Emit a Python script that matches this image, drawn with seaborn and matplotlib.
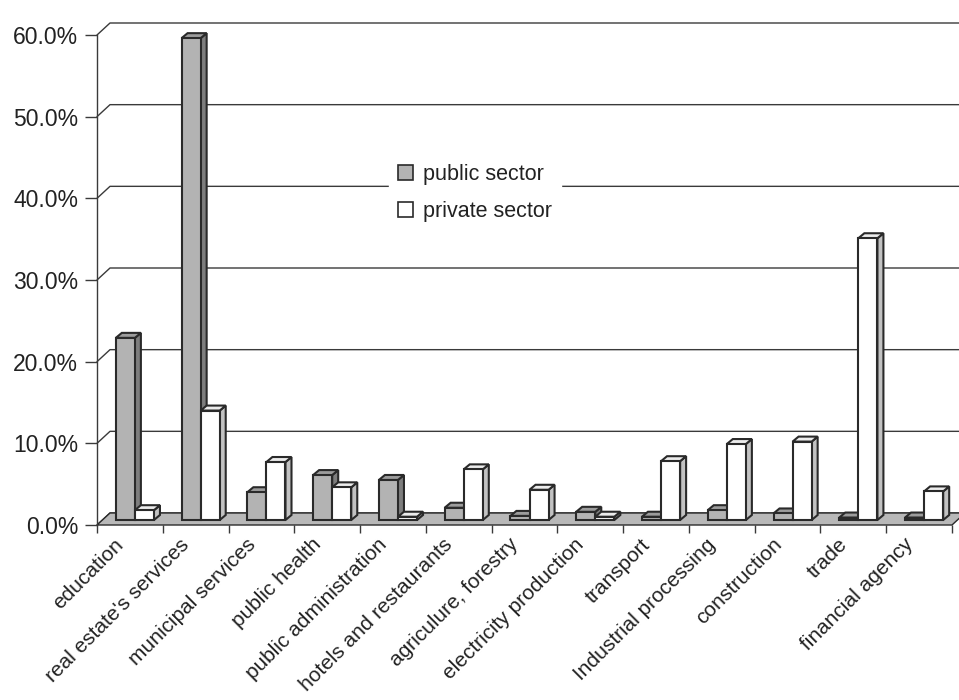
import numpy as np
import pandas as pd
import matplotlib
matplotlib.use("Agg")
import matplotlib.pyplot as plt
import seaborn as sns
from matplotlib.patches import Polygon, Rectangle
from matplotlib.lines import Line2D
from matplotlib.transforms import ScaledTranslation, IdentityTransform
from matplotlib.ticker import FixedLocator, FuncFormatter

# ---- data (share of employment, %) ----
sectors = [
    "education", "real estate's services", "municipal services",
    "public health", "public administration", "hotels and restaurants",
    "agriculure, forestry", "electricity production", "transport",
    "Industrial processing", "construction", "trade", "financial agency",
]
public_share = [22.3, 59.0, 3.4, 5.5, 4.9, 1.5, 0.5, 1.0, 0.4, 1.2, 0.8, 0.3, 0.3]
private_share = [1.2, 13.4, 7.1, 4.0, 0.4, 6.2, 3.7, 0.4, 7.2, 9.3, 9.6, 34.5, 3.5]
series = ["public sector", "private sector"]
y_ticks = [0, 10, 20, 30, 40, 50, 60]

df = pd.DataFrame({
    "sector": sectors * 2,
    "share": public_share + private_share,
    "series": [series[0]] * len(sectors) + [series[1]] * len(sectors),
})

# ---- style ----
sns.set_theme(style="white")
plt.rcParams["font.family"] = ["Liberation Sans", "DejaVu Sans"]

INK = "#2a2a2a"
faces = {
    "public sector": {"front": "#b3b3b3", "side": "#7e7e7e", "top": "#9c9c9c"},
    "private sector": {"front": "#ffffff", "side": "#c2c2c2", "top": "#ececec"},
}
FLOOR_COLOR = "#b8b8b8"

W_PX, H_PX, DPI = 959, 700, 100
fig = plt.figure(figsize=(W_PX / DPI, H_PX / DPI), dpi=DPI)
fig.patch.set_facecolor("white")
ax = fig.add_axes([97 / W_PX, 175 / H_PX, 855 / W_PX, 490 / H_PX])
ax.set_facecolor("none")

sns.barplot(
    data=df, x="sector", y="share", hue="series",
    order=sectors, hue_order=series,
    palette={k: v["front"] for k, v in faces.items()},
    width=0.58, saturation=1, edgecolor=INK, linewidth=1.5,
    ax=ax, legend=True,
)
ax.set_xlim(-0.5, len(sectors) - 0.5)
ax.set_ylim(0, 60)
ax.set_xlabel("")
ax.set_ylabel("")

# ---- pseudo-3D geometry (pixels) ----
WALL_DX, WALL_DY = 13, 12      # depth of the floor / back wall
BAR_SHIFT = (5, 5)             # bars stand mid-way into the floor
BAR_DX, BAR_DY = 6, 5          # depth of each bar

to_px = ax.transData.transform
x_left_px = to_px((-0.5, 0))[0]
x_right_px = to_px((len(sectors) - 0.5, 0))[0]

# back wall gridlines with their diagonal connectors to the front axis
for v in y_ticks:
    y_px = to_px((-0.5, v))[1]
    pts = [(x_left_px, y_px), (x_left_px + WALL_DX, y_px + WALL_DY), (W_PX, y_px + WALL_DY)]
    ax.add_line(Line2D([p[0] for p in pts], [p[1] for p in pts], color="#3a3a3a",
                       lw=1.0, transform=IdentityTransform(), clip_on=False, zorder=0.5))

# floor
y0_px = to_px((0, 0))[1]
floor = Polygon([(x_left_px, y0_px), (x_right_px, y0_px),
                 (x_right_px + WALL_DX, y0_px + WALL_DY), (x_left_px + WALL_DX, y0_px + WALL_DY)],
                closed=True, facecolor=FLOOR_COLOR, edgecolor=INK, lw=1.0,
                transform=IdentityTransform(), clip_on=False, zorder=1)
ax.add_patch(floor)

# bars: shift into the floor and add side / top faces, painted left to right
shift = ScaledTranslation(BAR_SHIFT[0] / DPI, BAR_SHIFT[1] / DPI, fig.dpi_scale_trans)
bars = [p for p in ax.patches if isinstance(p, Rectangle) and p is not floor]
n = len(sectors)
bar_series = {}
for i, p in enumerate(bars[:2 * n]):
    bar_series[id(p)] = series[0] if i < n else series[1]
bars = sorted(bars[:2 * n], key=lambda r: r.get_x())
for k, p in enumerate(bars):
    s = bar_series[id(p)]
    x0, w, h = p.get_x(), p.get_width(), p.get_height()
    X0, Y0 = to_px((x0, 0)) + np.array(BAR_SHIFT)
    X1, Y1 = to_px((x0 + w, h)) + np.array(BAR_SHIFT)
    z = 2 + 0.01 * k
    side = Polygon([(X1, Y0), (X1 + BAR_DX, Y0 + BAR_DY), (X1 + BAR_DX, Y1 + BAR_DY), (X1, Y1)],
                   closed=True, facecolor=faces[s]["side"], edgecolor=INK, lw=1.5,
                   joinstyle="miter", transform=IdentityTransform(), clip_on=False, zorder=z)
    top = Polygon([(X0, Y1), (X1, Y1), (X1 + BAR_DX, Y1 + BAR_DY), (X0 + BAR_DX, Y1 + BAR_DY)],
                  closed=True, facecolor=faces[s]["top"], edgecolor=INK, lw=1.5,
                  joinstyle="miter", transform=IdentityTransform(), clip_on=False, zorder=z)
    ax.add_patch(side)
    ax.add_patch(top)
    p.set_transform(ax.transData + shift)
    p.set_clip_on(False)
    p.set_zorder(z + 0.005)
    p.set_joinstyle("miter")

# ---- axes, ticks and labels ----
for name in ("top", "right", "bottom"):
    ax.spines[name].set_visible(False)
ax.spines["left"].set_color("#3a3a3a")
ax.spines["left"].set_linewidth(1.0)

ax.yaxis.set_major_locator(FixedLocator(y_ticks))
ax.yaxis.set_major_formatter(FuncFormatter(lambda v, _: f"{v:.1f}%"))
ax.tick_params(axis="y", which="major", left=True, length=8.5, width=1.0,
               color="#3a3a3a", pad=5, labelsize=16.5, labelcolor="#222222")

ax.xaxis.set_major_locator(FixedLocator(np.arange(-0.5, len(sectors), 1.0)))
ax.xaxis.set_minor_locator(FixedLocator(np.arange(len(sectors))))
ax.set_xticklabels([], minor=False)
ax.set_xticklabels(sectors, minor=True, rotation=45, ha="right", va="center",
                   rotation_mode="anchor", fontsize=15, color="#222222")
ax.tick_params(axis="x", which="major", bottom=True, length=6, width=1.0,
               color="#3a3a3a", direction="out")
ax.tick_params(axis="x", which="minor", bottom=True, length=0, pad=12)
label_shift = ScaledTranslation(-9 / DPI, 0, fig.dpi_scale_trans)
for lab in ax.get_xticklabels(minor=True):
    lab.set_transform(lab.get_transform() + label_shift)

# ---- legend ----
old = ax.get_legend()
if old is not None:
    old.remove()
handles = [Rectangle((0, 0), 1, 1, facecolor=faces[s]["front"], edgecolor=INK, lw=1.2)
           for s in series]
leg = ax.legend(handles, series, loc="upper left",
                bbox_to_anchor=(389 / W_PX, (H_PX - 155) / H_PX),
                bbox_transform=fig.transFigure, borderaxespad=0,
                frameon=True, fancybox=False, framealpha=1, edgecolor="white",
                facecolor="white", fontsize=15.5, handlelength=0.7, handleheight=0.7,
                handletextpad=0.5, labelspacing=0.75, borderpad=0.4)
for t in leg.get_texts():
    t.set_color("#222222")
leg.set_zorder(5)

fig.savefig("out.png", dpi=DPI, facecolor="white")
